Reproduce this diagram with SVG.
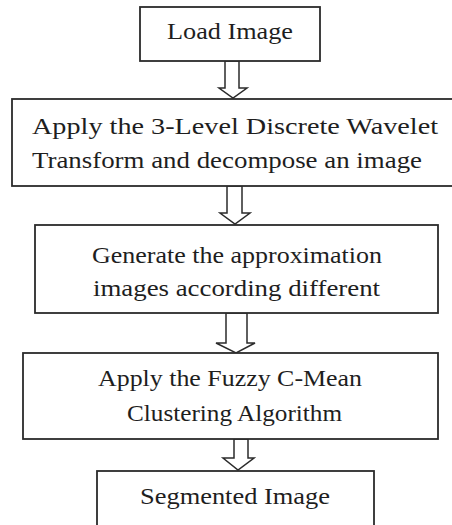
<svg xmlns="http://www.w3.org/2000/svg" width="452" height="525" viewBox="0 0 452 525">
<style>
.box{fill:#fff;stroke:#2b2b2b;stroke-width:1.8}
.arr{fill:#fff;stroke:#2b2b2b;stroke-width:1.5;stroke-linejoin:miter}
.t{font-family:"Liberation Serif",serif;font-size:24px;fill:#1e1e1e}
</style>
<rect width="452" height="525" fill="#fff"/>
<g id="connectors">
<polygon class="arr" points="225,61 225,88 219,88 233,98 247,88 239,88 239,61"/>
<polygon class="arr" points="227,186 227,213 220,213 235,224 250,213 242,213 242,186"/>
<polygon class="arr" points="226,313 226,343 216,343 236,353 255,343 247,343 247,313"/>
<polygon class="arr" points="234,439 234,458 223,458 238,470 254,458 248,458 248,439"/>
</g>
<g id="n1">
<rect class="box" x="140" y="7" width="180" height="54"/>
<text class="t" x="167" y="39" textLength="126" lengthAdjust="spacingAndGlyphs">Load Image</text>
</g>
<g id="n2">
<rect class="box" x="12" y="99" width="443" height="87"/>
<text class="t" x="32" y="134" textLength="406" lengthAdjust="spacingAndGlyphs">Apply the 3-Level Discrete Wavelet</text>
<text class="t" x="32" y="168" textLength="390" lengthAdjust="spacingAndGlyphs">Transform and decompose an image</text>
</g>
<g id="n3">
<rect class="box" x="35" y="225" width="403" height="88"/>
<text class="t" x="92" y="263" textLength="290" lengthAdjust="spacingAndGlyphs">Generate the approximation</text>
<text class="t" x="93" y="296" textLength="287" lengthAdjust="spacingAndGlyphs">images according different</text>
</g>
<g id="n4">
<rect class="box" x="23" y="353" width="415" height="86"/>
<text class="t" x="98" y="386" textLength="264" lengthAdjust="spacingAndGlyphs">Apply the Fuzzy C-Mean</text>
<text class="t" x="127" y="421" textLength="215" lengthAdjust="spacingAndGlyphs">Clustering Algorithm</text>
</g>
<g id="n5">
<rect class="box" x="97" y="471" width="277" height="60"/>
<text class="t" x="140" y="504" textLength="190" lengthAdjust="spacingAndGlyphs">Segmented Image</text>
</g>
</svg>
